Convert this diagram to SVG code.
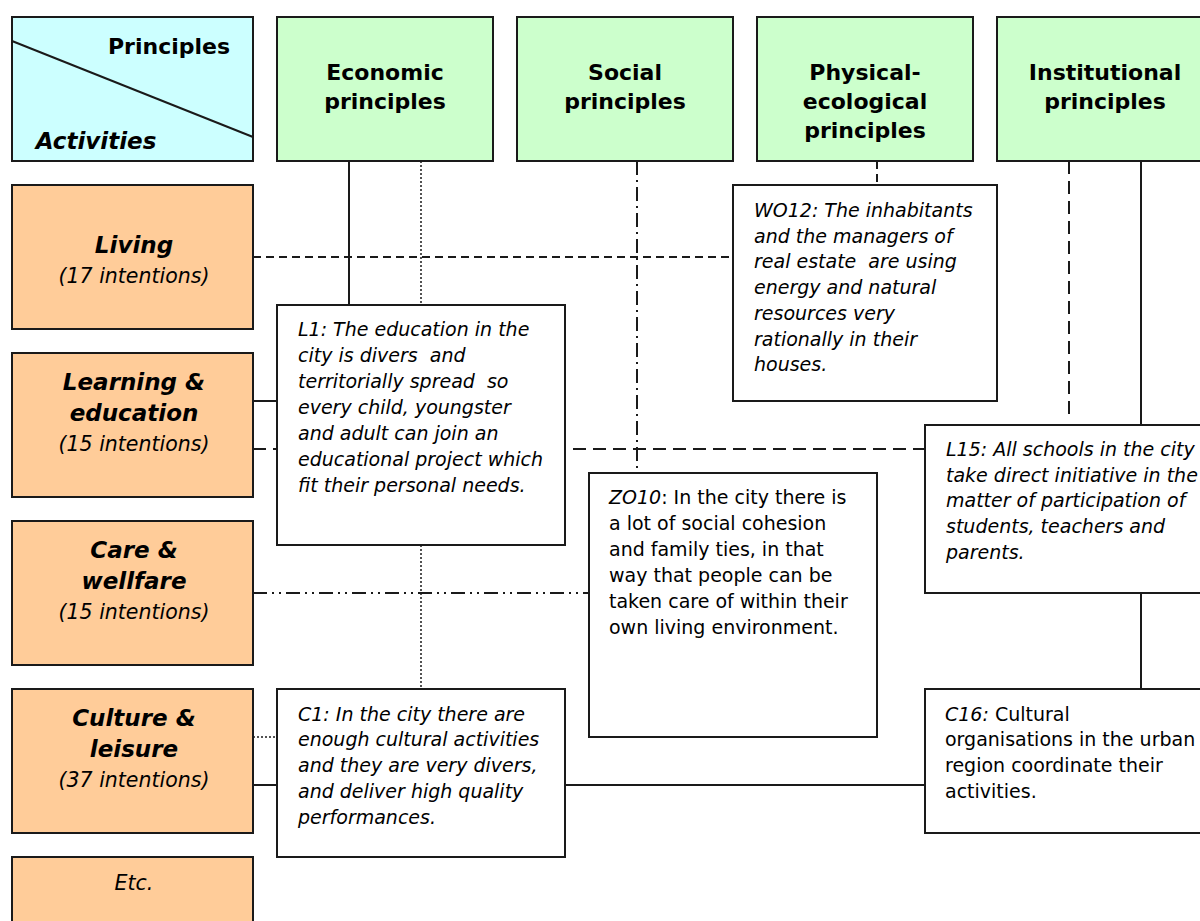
<svg xmlns="http://www.w3.org/2000/svg" width="1200" height="921" viewBox="0 0 1200 921">
  <style>
    .box { stroke: #1a1a1a; stroke-width: 2; }
    .corner { fill: #CCFFFF; }
    .principle { fill: #CCFFCC; }
    .activity { fill: #FFCC99; }
    .note { fill: #FFFFFF; }
    text { font-family: "DejaVu Sans", Verdana, sans-serif; fill: #000; white-space: pre; }
    .hdr { font-size: 22px; font-weight: bold; text-anchor: middle; }
    .act { font-size: 23px; font-weight: bold; font-style: italic; text-anchor: middle; }
    .cnt { font-size: 20.5px; font-style: italic; text-anchor: middle; }
    .body { font-size: 19px; }
    .it { font-style: italic; }
    .ln { fill: none; stroke: #1a1a1a; stroke-width: 2; }
    .solid { }
    .dotted { stroke-dasharray: 2 2; stroke-width: 1.5; }
    .dash-s { stroke-dasharray: 8 5; }
    .dash-l { stroke-dasharray: 13 7; }
    .dashdot { stroke-dasharray: 14 5 2 5; }
    .dashdotdot { stroke-dasharray: 14 5 2 5 2 5; }
  </style>

  <!-- connectors, drawn first so the boxes sit on top -->
  <g id="connectors">
    <line class="ln solid" x1="349" y1="161" x2="349" y2="305"/>
    <line class="ln dotted" x1="421" y1="161" x2="421" y2="689"/>
    <line class="ln dashdot" x1="637" y1="161" x2="637" y2="473"/>
    <line class="ln dash-s" x1="877" y1="161" x2="877" y2="185"/>
    <line class="ln dash-l" x1="1069" y1="161" x2="1069" y2="420"/>
    <line class="ln solid" x1="1141" y1="161" x2="1141" y2="689"/>
    <line class="ln dash-s" x1="253" y1="257" x2="733" y2="257"/>
    <line class="ln solid" x1="253" y1="401" x2="277" y2="401"/>
    <line class="ln dash-l" x1="253" y1="449" x2="925" y2="449"/>
    <line class="ln dashdotdot" x1="253" y1="593" x2="589" y2="593"/>
    <line class="ln dotted" x1="253" y1="737" x2="277" y2="737"/>
    <line class="ln solid" x1="253" y1="785" x2="925" y2="785"/>
  </g>

  <!-- header row -->
  <g id="corner">
    <rect class="box corner" x="12" y="17" width="241" height="144"/>
    <line class="ln" x1="12" y1="41" x2="253" y2="137"/>
    <text class="hdr" x="169" y="54">Principles</text>
    <text class="act" x="96" y="149">Activities</text>
  </g>
  <g id="economic">
    <rect class="box principle" x="277" y="17" width="216" height="144"/>
    <text class="hdr" x="385" y="80">Economic</text>
    <text class="hdr" x="385" y="109">principles</text>
  </g>
  <g id="social">
    <rect class="box principle" x="517" y="17" width="216" height="144"/>
    <text class="hdr" x="625" y="80">Social</text>
    <text class="hdr" x="625" y="109">principles</text>
  </g>
  <g id="physical">
    <rect class="box principle" x="757" y="17" width="216" height="144"/>
    <text class="hdr" x="865" y="80">Physical-</text>
    <text class="hdr" x="865" y="109">ecological</text>
    <text class="hdr" x="865" y="138">principles</text>
  </g>
  <g id="institutional">
    <rect class="box principle" x="997" y="17" width="216" height="144"/>
    <text class="hdr" x="1105" y="80">Institutional</text>
    <text class="hdr" x="1105" y="109">principles</text>
  </g>

  <!-- activity column -->
  <g id="living">
    <rect class="box activity" x="12" y="185" width="241" height="144"/>
    <text class="act" x="134" y="253">Living</text>
    <text class="cnt" x="134" y="283">(17 intentions)</text>
  </g>
  <g id="learning">
    <rect class="box activity" x="12" y="353" width="241" height="144"/>
    <text class="act" x="134" y="390">Learning &amp;</text>
    <text class="act" x="134" y="421">education</text>
    <text class="cnt" x="134" y="451">(15 intentions)</text>
  </g>
  <g id="care">
    <rect class="box activity" x="12" y="521" width="241" height="144"/>
    <text class="act" x="134" y="558">Care &amp;</text>
    <text class="act" x="134" y="589">wellfare</text>
    <text class="cnt" x="134" y="619">(15 intentions)</text>
  </g>
  <g id="culture">
    <rect class="box activity" x="12" y="689" width="241" height="144"/>
    <text class="act" x="134" y="726">Culture &amp;</text>
    <text class="act" x="134" y="757">leisure</text>
    <text class="cnt" x="134" y="787">(37 intentions)</text>
  </g>
  <g id="etc">
    <rect class="box activity" x="12" y="857" width="241" height="80"/>
    <text class="cnt" x="134" y="890">Etc.</text>
  </g>

  <!-- intention notes -->
  <g id="L1">
    <rect class="box note" x="277" y="305" width="288" height="240"/>
    <text class="body it" x="298" y="336">L1: The education in the</text>
    <text class="body it" x="298" y="362">city is divers  and</text>
    <text class="body it" x="298" y="388">territorially spread  so</text>
    <text class="body it" x="298" y="414">every child, youngster</text>
    <text class="body it" x="298" y="440">and adult can join an</text>
    <text class="body it" x="298" y="466">educational project which</text>
    <text class="body it" x="298" y="492">fit their personal needs.</text>
  </g>
  <g id="WO12">
    <rect class="box note" x="733" y="185" width="264" height="216"/>
    <text class="body it" x="754" y="217">WO12: The inhabitants</text>
    <text class="body it" x="754" y="243">and the managers of</text>
    <text class="body it" x="754" y="268">real estate  are using</text>
    <text class="body it" x="754" y="294">energy and natural</text>
    <text class="body it" x="754" y="320">resources very</text>
    <text class="body it" x="754" y="346">rationally in their</text>
    <text class="body it" x="754" y="371">houses.</text>
  </g>
  <g id="ZO10">
    <rect class="box note" x="589" y="473" width="288" height="264"/>
    <text class="body" x="609" y="504"><tspan class="it">ZO10</tspan>: In the city there is</text>
    <text class="body" x="609" y="530">a lot of social cohesion</text>
    <text class="body" x="609" y="556">and family ties, in that</text>
    <text class="body" x="609" y="582">way that people can be</text>
    <text class="body" x="609" y="608">taken care of within their</text>
    <text class="body" x="609" y="634">own living environment.</text>
  </g>
  <g id="L15">
    <rect class="box note" x="925" y="425" width="288" height="168"/>
    <text class="body it" x="946" y="456">L15: All schools in the city</text>
    <text class="body it" x="946" y="482">take direct initiative in the</text>
    <text class="body it" x="946" y="507">matter of participation of</text>
    <text class="body it" x="946" y="533">students, teachers and</text>
    <text class="body it" x="946" y="559">parents.</text>
  </g>
  <g id="C1">
    <rect class="box note" x="277" y="689" width="288" height="168"/>
    <text class="body it" x="298" y="721">C1: In the city there are</text>
    <text class="body it" x="298" y="746">enough cultural activities</text>
    <text class="body it" x="298" y="772">and they are very divers,</text>
    <text class="body it" x="298" y="798">and deliver high quality</text>
    <text class="body it" x="298" y="824">performances.</text>
  </g>
  <g id="C16">
    <rect class="box note" x="925" y="689" width="288" height="144"/>
    <text class="body" x="945" y="721"><tspan class="it">C16:</tspan> Cultural</text>
    <text class="body" x="945" y="746">organisations in the urban</text>
    <text class="body" x="945" y="772">region coordinate their</text>
    <text class="body" x="945" y="798">activities.</text>
  </g>
</svg>
